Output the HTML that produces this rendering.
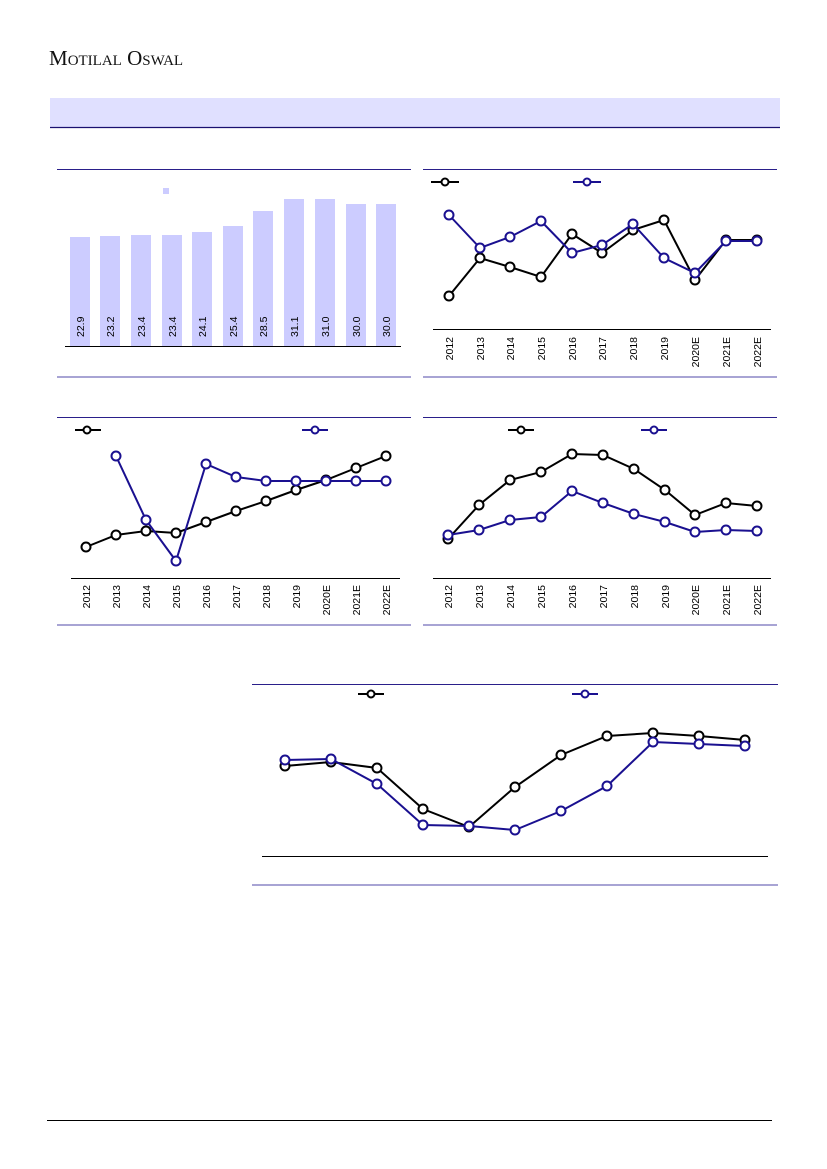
<!DOCTYPE html><html><head><style>body{margin:0;background:#fff}svg{display:block}</style></head><body>
<svg width="827" height="1169" xmlns="http://www.w3.org/2000/svg" font-family="'Liberation Sans','DejaVu Sans',sans-serif">
<text x="49" y="65" font-family="'Liberation Serif',serif" font-size="21" fill="#111">M<tspan font-size="15">OTILAL</tspan> O<tspan font-size="15">SWAL</tspan></text>
<rect x="50" y="98" width="730" height="29" fill="#e0e0ff"/>
<line x1="50" y1="127.5" x2="780" y2="127.5" stroke="#1a1070" stroke-width="1.2"/>
<g stroke="#2a1f8a" stroke-width="1">
<line x1="57" y1="169.5" x2="411" y2="169.5"/><line x1="423" y1="169.5" x2="777" y2="169.5"/>
<line x1="57" y1="417.5" x2="411" y2="417.5"/><line x1="423" y1="417.5" x2="777" y2="417.5"/>
<line x1="252" y1="684.5" x2="778" y2="684.5"/>
</g>
<g stroke="#a8a4d4" stroke-width="2">
<line x1="57" y1="377" x2="411" y2="377"/><line x1="423" y1="377" x2="777" y2="377"/>
<line x1="57" y1="625" x2="411" y2="625"/><line x1="423" y1="625" x2="777" y2="625"/>
<line x1="252" y1="885" x2="778" y2="885"/>
</g>
<line x1="47" y1="1120.5" x2="772" y2="1120.5" stroke="#000" stroke-width="1"/>
<rect x="163" y="188" width="6" height="6" fill="#ccccff"/>
<g fill="#ccccff">
<rect x="70" y="237" width="20" height="109"/><rect x="100" y="236" width="20" height="110"/><rect x="131" y="235" width="20" height="111"/><rect x="162" y="235" width="20" height="111"/><rect x="192" y="232" width="20" height="114"/><rect x="223" y="226" width="20" height="120"/><rect x="253" y="211" width="20" height="135"/><rect x="284" y="199" width="20" height="147"/><rect x="315" y="199" width="20" height="147"/><rect x="346" y="204" width="20" height="142"/><rect x="376" y="204" width="20" height="142"/>
</g>
<line x1="65" y1="346.5" x2="401" y2="346.5" stroke="#000"/>
<g font-size="10.5" fill="#000">
<text transform="translate(84,337) rotate(-90)">22.9</text><text transform="translate(114,337) rotate(-90)">23.2</text><text transform="translate(145,337) rotate(-90)">23.4</text><text transform="translate(176,337) rotate(-90)">23.4</text><text transform="translate(206,337) rotate(-90)">24.1</text><text transform="translate(237,337) rotate(-90)">25.4</text><text transform="translate(267,337) rotate(-90)">28.5</text><text transform="translate(298,337) rotate(-90)">31.1</text><text transform="translate(329,337) rotate(-90)">31.0</text><text transform="translate(360,337) rotate(-90)">30.0</text><text transform="translate(390,337) rotate(-90)">30.0</text>
</g>
<g fill="#fff" stroke-width="2">
<line x1="431" y1="182" x2="459" y2="182" stroke="#000"/><circle cx="445" cy="182" r="3.5" stroke="#000"/>
<line x1="573" y1="182" x2="601" y2="182" stroke="#1a1090"/><circle cx="587" cy="182" r="3.5" stroke="#1a1090"/>
<polyline points="449,296 480,258 510,267 541,277 572,234 602,253 633,230 664,220 695,280 726,240 757,240" fill="none" stroke="#000"/>
<g stroke="#000"><circle cx="449" cy="296" r="4.5"/><circle cx="480" cy="258" r="4.5"/><circle cx="510" cy="267" r="4.5"/><circle cx="541" cy="277" r="4.5"/><circle cx="572" cy="234" r="4.5"/><circle cx="602" cy="253" r="4.5"/><circle cx="633" cy="230" r="4.5"/><circle cx="664" cy="220" r="4.5"/><circle cx="695" cy="280" r="4.5"/><circle cx="726" cy="240" r="4.5"/><circle cx="757" cy="240" r="4.5"/></g>
<polyline points="449,215 480,248 510,237 541,221 572,253 602,245 633,224 664,258 695,273 726,241 757,241" fill="none" stroke="#1a1090"/>
<g stroke="#1a1090"><circle cx="449" cy="215" r="4.5"/><circle cx="480" cy="248" r="4.5"/><circle cx="510" cy="237" r="4.5"/><circle cx="541" cy="221" r="4.5"/><circle cx="572" cy="253" r="4.5"/><circle cx="602" cy="245" r="4.5"/><circle cx="633" cy="224" r="4.5"/><circle cx="664" cy="258" r="4.5"/><circle cx="695" cy="273" r="4.5"/><circle cx="726" cy="241" r="4.5"/><circle cx="757" cy="241" r="4.5"/></g>
<line x1="75" y1="430" x2="101" y2="430" stroke="#000"/><circle cx="87" cy="430" r="3.5" stroke="#000"/>
<line x1="302" y1="430" x2="328" y2="430" stroke="#1a1090"/><circle cx="315" cy="430" r="3.5" stroke="#1a1090"/>
<polyline points="86,547 116,535 146,531 176,533 206,522 236,511 266,501 296,490 326,480 356,468 386,456" fill="none" stroke="#000"/>
<g stroke="#000"><circle cx="86" cy="547" r="4.5"/><circle cx="116" cy="535" r="4.5"/><circle cx="146" cy="531" r="4.5"/><circle cx="176" cy="533" r="4.5"/><circle cx="206" cy="522" r="4.5"/><circle cx="236" cy="511" r="4.5"/><circle cx="266" cy="501" r="4.5"/><circle cx="296" cy="490" r="4.5"/><circle cx="326" cy="480" r="4.5"/><circle cx="356" cy="468" r="4.5"/><circle cx="386" cy="456" r="4.5"/></g>
<polyline points="116,456 146,520 176,561 206,464 236,477 266,481 296,481 326,481 356,481 386,481" fill="none" stroke="#1a1090"/>
<g stroke="#1a1090"><circle cx="116" cy="456" r="4.5"/><circle cx="146" cy="520" r="4.5"/><circle cx="176" cy="561" r="4.5"/><circle cx="206" cy="464" r="4.5"/><circle cx="236" cy="477" r="4.5"/><circle cx="266" cy="481" r="4.5"/><circle cx="296" cy="481" r="4.5"/><circle cx="326" cy="481" r="4.5"/><circle cx="356" cy="481" r="4.5"/><circle cx="386" cy="481" r="4.5"/></g>
<line x1="508" y1="430" x2="534" y2="430" stroke="#000"/><circle cx="521" cy="430" r="3.5" stroke="#000"/>
<line x1="641" y1="430" x2="667" y2="430" stroke="#1a1090"/><circle cx="654" cy="430" r="3.5" stroke="#1a1090"/>
<polyline points="448,539 479,505 510,480 541,472 572,454 603,455 634,469 665,490 695,515 726,503 757,506" fill="none" stroke="#000"/>
<g stroke="#000"><circle cx="448" cy="539" r="4.5"/><circle cx="479" cy="505" r="4.5"/><circle cx="510" cy="480" r="4.5"/><circle cx="541" cy="472" r="4.5"/><circle cx="572" cy="454" r="4.5"/><circle cx="603" cy="455" r="4.5"/><circle cx="634" cy="469" r="4.5"/><circle cx="665" cy="490" r="4.5"/><circle cx="695" cy="515" r="4.5"/><circle cx="726" cy="503" r="4.5"/><circle cx="757" cy="506" r="4.5"/></g>
<polyline points="448,535 479,530 510,520 541,517 572,491 603,503 634,514 665,522 695,532 726,530 757,531" fill="none" stroke="#1a1090"/>
<g stroke="#1a1090"><circle cx="448" cy="535" r="4.5"/><circle cx="479" cy="530" r="4.5"/><circle cx="510" cy="520" r="4.5"/><circle cx="541" cy="517" r="4.5"/><circle cx="572" cy="491" r="4.5"/><circle cx="603" cy="503" r="4.5"/><circle cx="634" cy="514" r="4.5"/><circle cx="665" cy="522" r="4.5"/><circle cx="695" cy="532" r="4.5"/><circle cx="726" cy="530" r="4.5"/><circle cx="757" cy="531" r="4.5"/></g>
<line x1="358" y1="694" x2="384" y2="694" stroke="#000"/><circle cx="371" cy="694" r="3.5" stroke="#000"/>
<line x1="572" y1="694" x2="598" y2="694" stroke="#1a1090"/><circle cx="585" cy="694" r="3.5" stroke="#1a1090"/>
<polyline points="285,766 331,762 377,768 423,809 469,827 515,787 561,755 607,736 653,733 699,736 745,740" fill="none" stroke="#000"/>
<g stroke="#000"><circle cx="285" cy="766" r="4.5"/><circle cx="331" cy="762" r="4.5"/><circle cx="377" cy="768" r="4.5"/><circle cx="423" cy="809" r="4.5"/><circle cx="469" cy="827" r="4.5"/><circle cx="515" cy="787" r="4.5"/><circle cx="561" cy="755" r="4.5"/><circle cx="607" cy="736" r="4.5"/><circle cx="653" cy="733" r="4.5"/><circle cx="699" cy="736" r="4.5"/><circle cx="745" cy="740" r="4.5"/></g>
<polyline points="285,760 331,759 377,784 423,825 469,826 515,830 561,811 607,786 653,742 699,744 745,746" fill="none" stroke="#1a1090"/>
<g stroke="#1a1090"><circle cx="285" cy="760" r="4.5"/><circle cx="331" cy="759" r="4.5"/><circle cx="377" cy="784" r="4.5"/><circle cx="423" cy="825" r="4.5"/><circle cx="469" cy="826" r="4.5"/><circle cx="515" cy="830" r="4.5"/><circle cx="561" cy="811" r="4.5"/><circle cx="607" cy="786" r="4.5"/><circle cx="653" cy="742" r="4.5"/><circle cx="699" cy="744" r="4.5"/><circle cx="745" cy="746" r="4.5"/></g>
</g>
<g stroke="#000" stroke-width="1">
<line x1="433" y1="329.5" x2="771" y2="329.5"/><line x1="71" y1="578.5" x2="400" y2="578.5"/><line x1="433" y1="578.5" x2="771" y2="578.5"/><line x1="262" y1="856.5" x2="768" y2="856.5"/>
</g>
<g font-size="10.5" fill="#000" text-anchor="end">
<text transform="translate(453,337) rotate(-90)">2012</text><text transform="translate(484,337) rotate(-90)">2013</text><text transform="translate(514,337) rotate(-90)">2014</text><text transform="translate(545,337) rotate(-90)">2015</text><text transform="translate(576,337) rotate(-90)">2016</text><text transform="translate(606,337) rotate(-90)">2017</text><text transform="translate(637,337) rotate(-90)">2018</text><text transform="translate(668,337) rotate(-90)">2019</text><text transform="translate(699,337) rotate(-90)">2020E</text><text transform="translate(730,337) rotate(-90)">2021E</text><text transform="translate(761,337) rotate(-90)">2022E</text>
<text transform="translate(90,585) rotate(-90)">2012</text><text transform="translate(120,585) rotate(-90)">2013</text><text transform="translate(150,585) rotate(-90)">2014</text><text transform="translate(180,585) rotate(-90)">2015</text><text transform="translate(210,585) rotate(-90)">2016</text><text transform="translate(240,585) rotate(-90)">2017</text><text transform="translate(270,585) rotate(-90)">2018</text><text transform="translate(300,585) rotate(-90)">2019</text><text transform="translate(330,585) rotate(-90)">2020E</text><text transform="translate(360,585) rotate(-90)">2021E</text><text transform="translate(390,585) rotate(-90)">2022E</text>
<text transform="translate(452,585) rotate(-90)">2012</text><text transform="translate(483,585) rotate(-90)">2013</text><text transform="translate(514,585) rotate(-90)">2014</text><text transform="translate(545,585) rotate(-90)">2015</text><text transform="translate(576,585) rotate(-90)">2016</text><text transform="translate(607,585) rotate(-90)">2017</text><text transform="translate(638,585) rotate(-90)">2018</text><text transform="translate(669,585) rotate(-90)">2019</text><text transform="translate(699,585) rotate(-90)">2020E</text><text transform="translate(730,585) rotate(-90)">2021E</text><text transform="translate(761,585) rotate(-90)">2022E</text>
</g>
</svg>
</body></html>
